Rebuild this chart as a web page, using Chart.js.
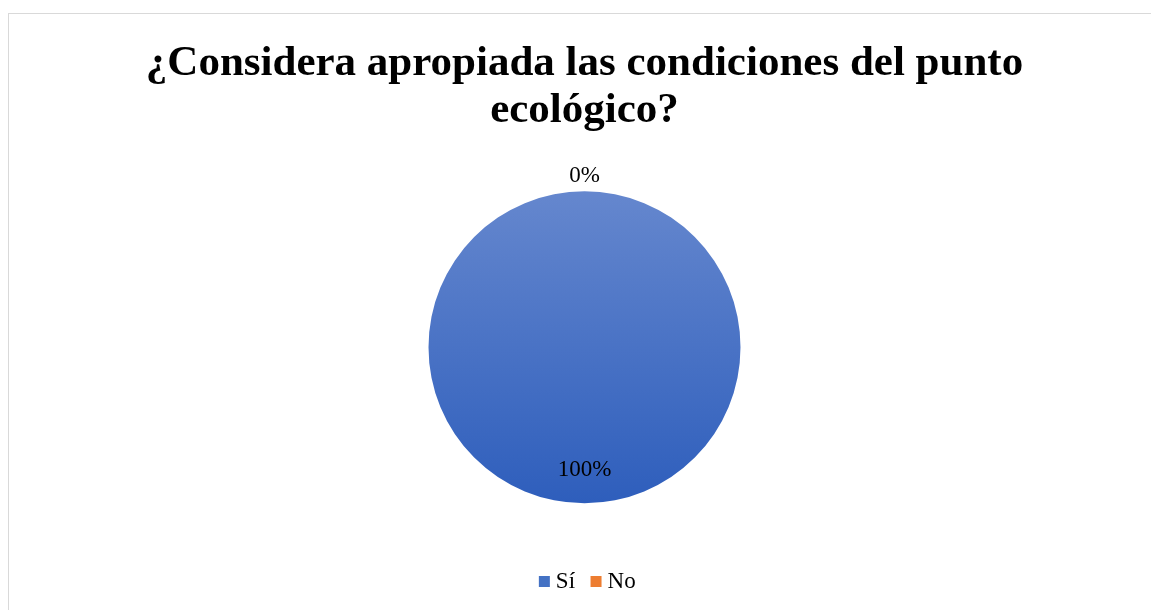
<!DOCTYPE html>
<html>
<head>
<meta charset="utf-8">
<script src="https://cdn.jsdelivr.net/npm/chart.js@4.4.0/dist/chart.umd.min.js"></script>
<style>
  html, body { margin: 0; padding: 0; background: #ffffff; overflow: hidden; }
  #wrap { position: absolute; left: 8px; top: 13px; width: 1153px; height: 598px; border: 1px solid #d9d9d9; box-sizing: border-box; }
  #c { display: block; }
</style>
</head>
<body>
<div id="wrap"><canvas id="c" width="1151" height="596" style="width:1151px;height:596px"></canvas></div>
<script>
const categories = ["Sí", "No"];
const values = [100, 0];
const valueLabels = ["100%", "0%"];
const titleLines = ["¿Considera apropiada las condiciones del punto", "ecológico?"];
const sliceColors = ["#4472C4", "#ED7D31"];

const serif = "'Liberation Serif', 'Times New Roman', serif";
const PIE_RADIUS = 156;
const LEGEND_BOX = 11;

function sliceFill(ctx) {
  const chart = ctx.chart;
  const area = chart.chartArea;
  if (ctx.dataIndex === 1) return sliceColors[1];
  if (!area || !isFinite(area.top) || !isFinite(area.bottom)) return sliceColors[0];
  const cy = (area.top + area.bottom) / 2;
  const r = PIE_RADIUS;
  const g = chart.ctx.createLinearGradient(0, cy - r, 0, cy + r);
  g.addColorStop(0, "#6587CE");
  g.addColorStop(1, "#2E5EBC");
  return g;
}

const labelPlugin = {
  id: "sliceLabels",
  afterDatasetsDraw(chart) {
    const ctx = chart.ctx;
    const meta = chart.getDatasetMeta(0);
    ctx.save();
    ctx.font = "23px " + serif;
    ctx.fillStyle = "#000000";
    ctx.textAlign = "center";
    ctx.textBaseline = "middle";
    meta.data.forEach((arc, i) => {
      const p = arc.getProps(["x", "y", "startAngle", "endAngle", "outerRadius"], true);
      const mid = (p.startAngle + p.endAngle) / 2;
      const dist = values[i] === 0 ? p.outerRadius + 15 : p.outerRadius * 0.785;
      ctx.fillText(valueLabels[i], p.x + Math.cos(mid) * dist, p.y + Math.sin(mid) * dist);
    });
    ctx.restore();
  }
};

// legend swatches sit closer to their text than Chart.js' default gap
const legendSwatchPlugin = {
  id: "legendSwatches",
  afterDraw(chart) {
    const lg = chart.legend;
    if (!lg || !lg.legendHitBoxes) return;
    const ctx = chart.ctx;
    ctx.save();
    lg.legendHitBoxes.forEach((hb, i) => {
      ctx.fillStyle = sliceColors[i];
      const x = hb.left + 5.5;
      const y = hb.top + (hb.height - LEGEND_BOX) / 2;
      ctx.fillRect(x, y, LEGEND_BOX, LEGEND_BOX);
    });
    ctx.restore();
  }
};

new Chart(document.getElementById("c"), {
  type: "pie",
  data: {
    labels: categories,
    datasets: [{
      data: values,
      backgroundColor: sliceFill,
      borderWidth: 0
    }]
  },
  options: {
    responsive: false,
    animation: false,
    radius: PIE_RADIUS,
    layout: { padding: { top: 0, bottom: 7, left: 0, right: 0 } },
    plugins: {
      title: {
        display: true,
        text: titleLines,
        color: "#000000",
        font: { family: serif, size: 43, weight: "bold", lineHeight: 1.1 },
        padding: { top: 26, bottom: 0 }
      },
      legend: {
        display: true,
        position: "bottom",
        labels: {
          color: "#000000",
          font: { family: serif, size: 23 },
          boxWidth: LEGEND_BOX,
          boxHeight: LEGEND_BOX,
          padding: 10,
          generateLabels(chart) {
            return categories.map((t, i) => ({
              text: t, fillStyle: "rgba(0,0,0,0)", strokeStyle: "rgba(0,0,0,0)", lineWidth: 0, hidden: false, index: i
            }));
          }
        }
      },
      tooltip: { enabled: false }
    }
  },
  plugins: [labelPlugin, legendSwatchPlugin]
});
</script>
</body>
</html>
